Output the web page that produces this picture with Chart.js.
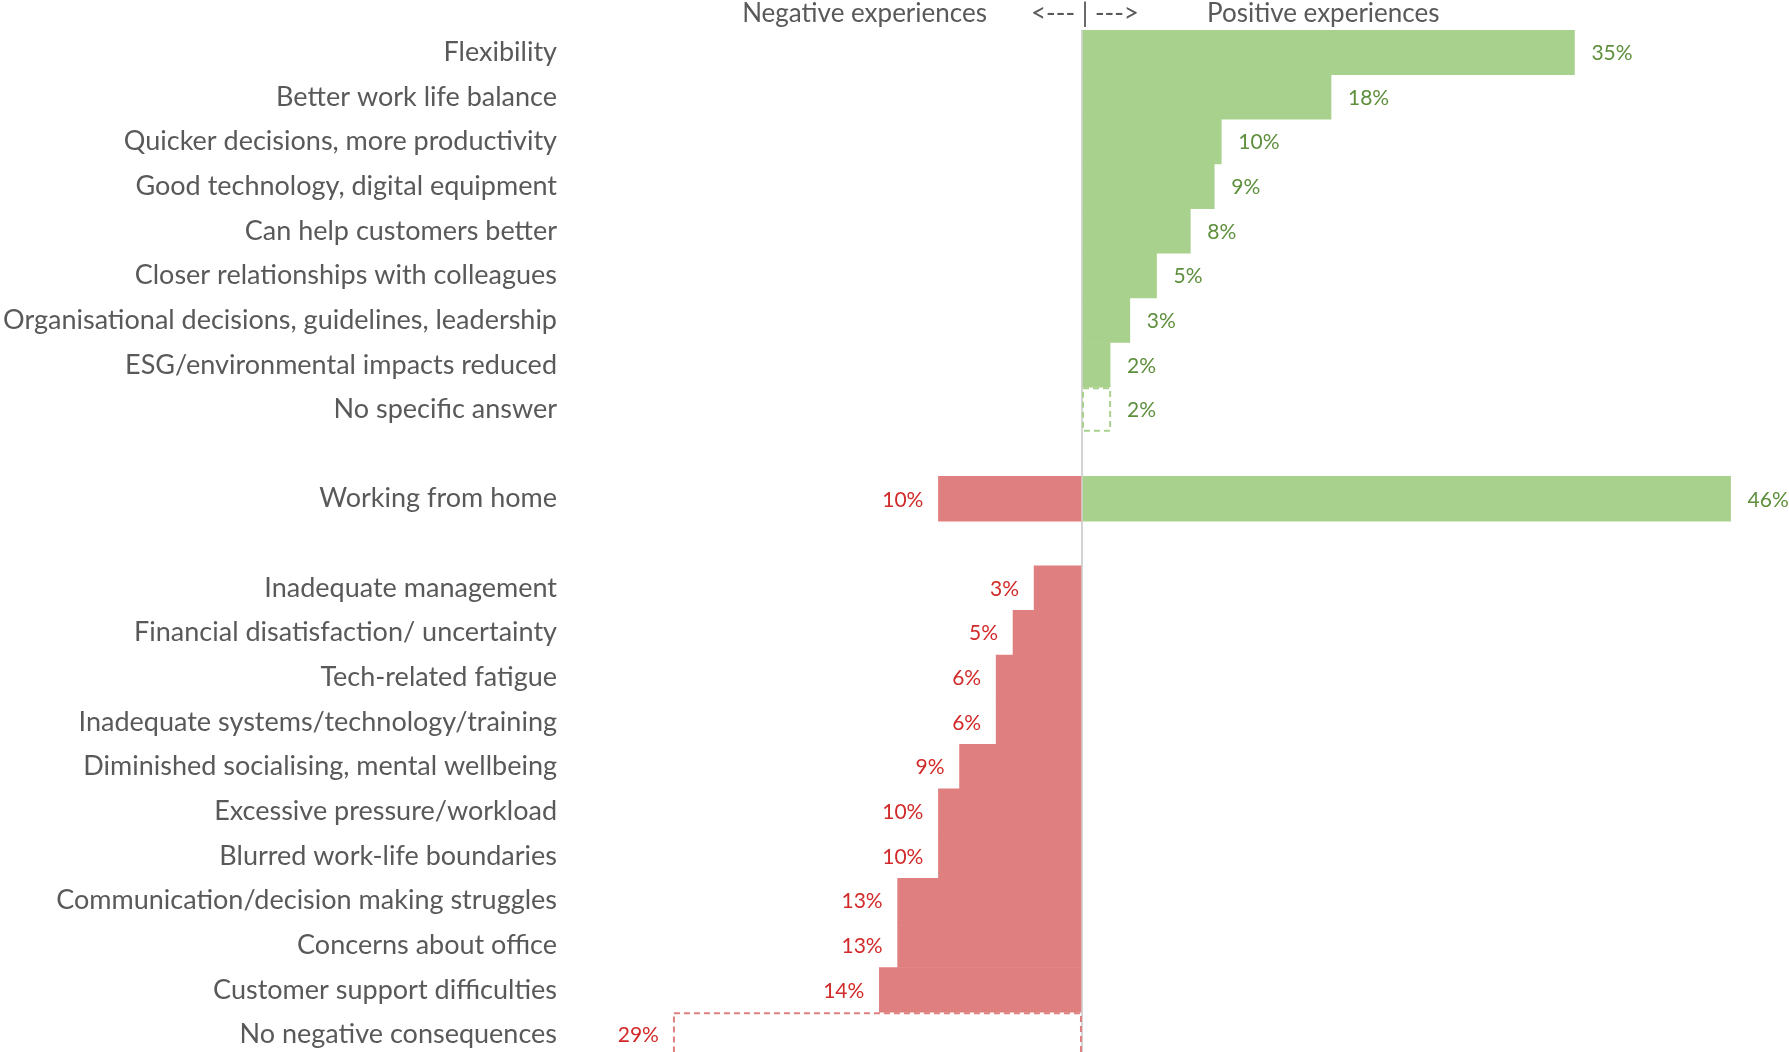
<!DOCTYPE html>
<html>
<head>
<meta charset="utf-8">
<script src="https://cdn.jsdelivr.net/npm/chart.js@4"></script>
<style>
  html, body { margin: 0; padding: 0; background: #fff; overflow: hidden; }
  #wrap { position: relative; width: 1789px; height: 1075px; }
</style>
</head>
<body>
<div id="wrap"><canvas id="chart"></canvas></div>
<script>
const categories = [
  'Flexibility',
  'Better work life balance',
  'Quicker decisions, more productivity',
  'Good technology, digital equipment',
  'Can help customers better',
  'Closer relationships with colleagues',
  'Organisational decisions, guidelines, leadership',
  'ESG/environmental impacts reduced',
  'No specific answer',
  '',
  'Working from home',
  '',
  'Inadequate management',
  'Financial disatisfaction/ uncertainty',
  'Tech-related fatigue',
  'Inadequate systems/technology/training',
  'Diminished socialising, mental wellbeing',
  'Excessive pressure/workload',
  'Blurred work-life boundaries',
  'Communication/decision making struggles',
  'Concerns about office',
  'Customer support difficulties',
  'No negative consequences'
];

const positive = [35, 17.7, 9.9, 9.4, 7.7, 5.3, 3.4, 2.0, null, null, 46.1, null,
  null, null, null, null, null, null, null, null, null, null, null];

const negative = [null, null, null, null, null, null, null, null, null, null, -10.2, null,
  -3.4, -4.9, -6.1, -6.1, -8.7, -10.2, -10.2, -13.1, -13.1, -14.4, null];

// "no answer" rows, drawn as dashed outlines
const noAnswer = [null, null, null, null, null, null, null, null, 2.0, null, null, null,
  null, null, null, null, null, null, null, null, null, null, -29];

const GREEN = '#a9d18e';
const RED = '#df7f7f';
const GREEN_TEXT = '#5e8f3c';
const RED_TEXT = '#d22a2a';
const GREY_TEXT = '#595959';
const FONT = 'Lato, "Open Sans", sans-serif';

const valueLabels = {
  id: 'valueLabels',
  afterDatasetsDraw(chart) {
    const ctx = chart.ctx;
    ctx.save();
    ctx.font = '400 21px ' + FONT;
    ctx.textBaseline = 'middle';
    chart.data.datasets.forEach((ds, di) => {
      const meta = chart.getDatasetMeta(di);
      meta.data.forEach((el, i) => {
        const v = ds.data[i];
        if (v === null || v === undefined) return;
        if (di === 2) {
          // dashed outline
          const top = el.y - el.height / 2 + 1;
          const h = el.height - 2;
          ctx.save();
          ctx.setLineDash([6, 4]);
          ctx.lineWidth = 2;
          ctx.strokeStyle = v > 0 ? GREEN : RED;
          const l = Math.min(el.x, el.base), r = Math.max(el.x, el.base);
          ctx.strokeRect(l, top, r - l, h);
          ctx.restore();
        }
        const txt = Math.round(Math.abs(v)) + '%';
        if (v > 0) {
          ctx.fillStyle = GREEN_TEXT;
          ctx.textAlign = 'left';
          ctx.fillText(txt, el.x + 17, el.y + 1);
        } else {
          ctx.fillStyle = RED_TEXT;
          ctx.textAlign = 'right';
          ctx.fillText(txt, el.x - 15, el.y + 1);
        }
      });
    });
    ctx.restore();
  }
};

const header = {
  id: 'header',
  afterDraw(chart) {
    const ctx = chart.ctx;
    const zero = chart.scales.x.getPixelForValue(0);
    ctx.save();
    ctx.font = '400 26px ' + FONT;
    ctx.fillStyle = GREY_TEXT;
    ctx.textBaseline = 'middle';
    ctx.textAlign = 'right';
    ctx.fillText('Negative experiences', zero - 95, 14);
    ctx.textAlign = 'center';
    ctx.fillText('<--- | --->', zero + 3, 14);
    ctx.textAlign = 'left';
    ctx.fillText('Positive experiences', zero + 125, 14);
    ctx.restore();
  }
};

new Chart('chart', {
  type: 'bar',
  data: {
    labels: categories,
    datasets: [
      { label: 'Positive', data: positive, backgroundColor: GREEN, borderWidth: 0 },
      { label: 'Negative', data: negative, backgroundColor: RED, borderWidth: 0 },
      { label: 'No answer', data: noAnswer, backgroundColor: 'rgba(0,0,0,0)', borderWidth: 0 }
    ]
  },
  options: {
    indexAxis: 'y',
    responsive: true,
    maintainAspectRatio: false,
    animation: false,
    barPercentage: 1,
    categoryPercentage: 1,
    layout: { padding: { top: 30, left: 0, right: 0, bottom: 0 } },
    plugins: {
      legend: { display: false },
      tooltip: { enabled: false },
      title: { display: false }
    },
    scales: {
      x: {
        stacked: true,
        min: -36.6,
        max: 50.25,
        z: 1,
        ticks: { display: false, stepSize: 10 },
        border: { display: false },
        grid: {
          drawTicks: false,
          lineWidth: 2,
          color: (c) => (c.tick && c.tick.value === 0 ? '#d4d4d4' : 'rgba(0,0,0,0)')
        }
      },
      y: {
        stacked: true,
        grid: { display: false },
        border: { display: false },
        afterFit: (scale) => { scale.width = 567; },
        ticks: {
          autoSkip: false,
          padding: 2,
          color: GREY_TEXT,
          font: { family: FONT, size: 27, weight: '400' }
        }
      }
    }
  },
  plugins: [valueLabels, header]
});
</script>
</body>
</html>
